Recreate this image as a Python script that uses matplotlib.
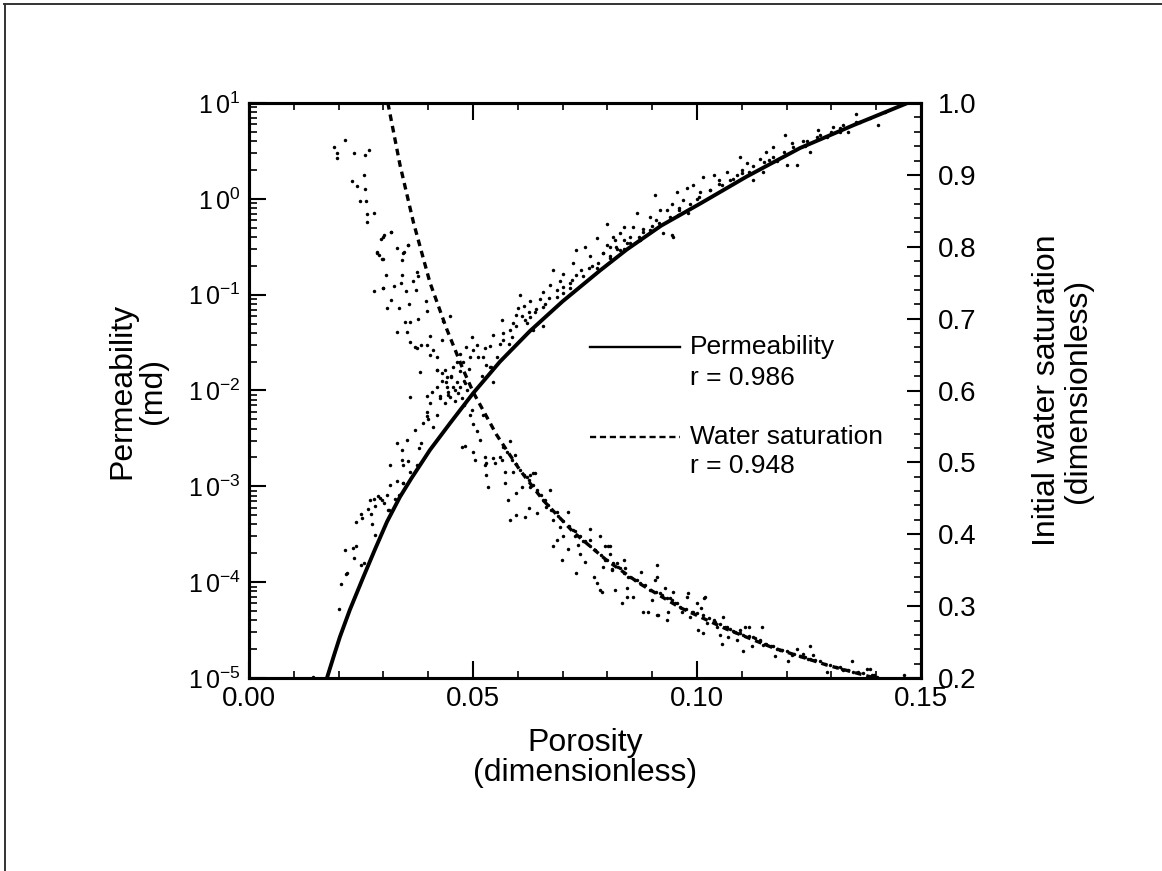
import matplotlib
matplotlib.use('Agg')
import matplotlib.pyplot as plt
import numpy as np
from matplotlib.ticker import MultipleLocator, LogLocator, NullFormatter
from matplotlib.lines import Line2D

plt.rcParams['font.family'] = ['Liberation Sans', 'DejaVu Sans']
plt.rcParams['mathtext.fontset'] = 'custom'
plt.rcParams['mathtext.rm'] = 'Liberation Sans'
plt.rcParams['mathtext.it'] = 'Liberation Sans:italic'
plt.rcParams['mathtext.bf'] = 'Liberation Sans:bold'

# ---------------- data ----------------
# Permeability fit curve (porosity, log10 permeability in md)
perm_fit_phi = [0.0174, 0.0190, 0.0203, 0.0225, 0.0254, 0.0281, 0.0308, 0.0337, 0.0362,
                0.0404, 0.0449, 0.0500, 0.0560, 0.0627, 0.0700, 0.0783, 0.0843, 0.0920,
                0.1007, 0.1110, 0.1230, 0.1350, 0.1470]
perm_fit_logk = [-5.00, -4.76, -4.57, -4.29, -3.96, -3.66, -3.37, -3.11, -2.92,
                 -2.62, -2.34, -2.03, -1.70, -1.38, -1.07, -0.75, -0.53, -0.28,
                 -0.05, 0.23, 0.53, 0.77, 1.00]

# Water saturation fit curve (porosity, Sw)
sw_fit_phi = [0.0310, 0.0337, 0.0367, 0.0404, 0.0441, 0.0478, 0.0501, 0.0553, 0.0605,
              0.0657, 0.0724, 0.0798, 0.0873, 0.0962, 0.1066, 0.1170, 0.1290, 0.1397]
sw_fit = [1.000, 0.914, 0.834, 0.750, 0.686, 0.629, 0.597, 0.538, 0.489,
          0.447, 0.403, 0.364, 0.331, 0.298, 0.268, 0.242, 0.218, 0.200]

# Permeability measurements (porosity, log10 permeability)
perm_pts = [
    (0.0142, -4.99), (0.0201, -4.28), (0.0205, -4.02), (0.0216, -3.91), (0.0218, -3.90),
    (0.0214, -3.66), (0.0233, -3.64), (0.0239, -3.62), (0.0235, -3.75), (0.0251, -3.82),
    (0.0257, -3.80), (0.0281, -3.51), (0.0275, -3.39), (0.0239, -3.37), (0.0252, -3.33),
    (0.0251, -3.29), (0.0266, -3.24), (0.0272, -3.29), (0.0282, -3.21), (0.0270, -3.14),
    (0.0280, -3.13), (0.0289, -3.10), (0.0296, -3.14), (0.0302, -3.17), (0.0307, -3.09),
    (0.0313, -3.25), (0.0325, -3.13), (0.0334, -3.09), (0.0343, -2.97), (0.0330, -2.94),
    (0.0311, -3.25), (0.0292, -3.12), (0.0315, -2.99), (0.0344, -2.97), (0.0330, -2.55),
    (0.0352, -2.52), (0.0341, -2.73), (0.0356, -2.74), (0.0315, -2.78), (0.0344, -2.78),
    (0.0374, -2.78), (0.0385, -2.55), (0.0341, -2.62), (0.0371, -2.41), (0.0389, -2.34),
    (0.0397, -2.22), (0.0404, -2.13), (0.0419, -2.26), (0.0411, -2.38), (0.0426, -2.06),
    (0.0441, -1.96), (0.0419, -1.79), (0.0437, -1.79), (0.0452, -1.85), (0.0464, -1.70),
    (0.0478, -1.70), (0.0493, -1.65), (0.0501, -1.58), (0.0512, -1.65), (0.0497, -1.44),
    (0.0508, -1.53), (0.0527, -1.56), (0.0530, -1.73), (0.0538, -1.75), (0.0553, -1.65),
    (0.0545, -1.42), (0.0560, -1.51), (0.0568, -1.47), (0.0564, -1.26), (0.0583, -1.37),
    (0.0590, -1.30), (0.0597, -1.21), (0.0586, -1.44), (0.0601, -1.14), (0.0613, -1.12),
    (0.0624, -1.18), (0.0616, -1.26), (0.0627, -1.07), (0.0638, -1.18), (0.0650, -1.05),
    (0.0657, -0.97), (0.0672, -0.90), (0.0679, -0.74), (0.0687, -0.95), (0.0702, -0.78),
    (0.0694, -0.86), (0.0717, -0.88), (0.0724, -0.67), (0.0731, -0.53), (0.0742, -0.74),
    (0.0750, -0.50), (0.0761, -0.60), (0.0776, -0.41), (0.0780, -0.67), (0.0791, -0.57),
    (0.0798, -0.48), (0.0813, -0.40), (0.0821, -0.52), (0.0828, -0.36), (0.0836, -0.43),
    (0.0605, -1.00), (0.0635, -1.37), (0.0657, -1.33), (0.0545, -1.91), (0.0798, -0.26),
    (0.0817, -0.43), (0.0836, -0.29), (0.0858, -0.29), (0.0865, -0.15), (0.0880, -0.31),
    (0.0895, -0.19), (0.0906, 0.04), (0.0917, -0.12), (0.0925, -0.36), (0.0947, -0.40),
    (0.0944, -0.05), (0.0955, 0.07), (0.0969, -0.01), (0.0977, 0.11), (0.0992, 0.14),
    (0.1007, 0.07), (0.1014, 0.23), (0.1029, 0.09), (0.1037, 0.25), (0.1048, 0.20),
    (0.1066, 0.28), (0.1074, 0.20), (0.1089, 0.25), (0.1096, 0.44), (0.1111, 0.37),
    (0.1115, 0.28), (0.1126, 0.20), (0.1141, 0.42), (0.1148, 0.28), (0.1155, 0.49),
    (0.1170, 0.54), (0.1178, 0.39), (0.1196, 0.67), (0.1200, 0.35), (0.1211, 0.58),
    (0.1223, 0.35), (0.1237, 0.60), (0.1252, 0.49), (0.1271, 0.72), (0.1275, 0.67),
    (0.1304, 0.75), (0.1327, 0.77), (0.1338, 0.70), (0.1356, 0.89), (0.1364, 0.80),
    (0.0944, -0.38), (0.0932, -0.12), (0.0958, -0.17), (0.0981, -0.15), (0.0908, -0.22),
    (0.0873, -0.43), (0.0843, -0.46), (0.0828, -0.53), (0.0791, -0.57), (0.0806, -0.50),
    (0.1386, 0.84), (0.1420, 0.91), (0.1404, 0.77), (0.0700, -0.98), (0.0720, -0.85),
    (0.0760, -0.72), (0.0850, -0.40), (0.0880, -0.35), (0.0900, -0.28), (0.0960, -0.10),
    (0.1000, 0.00), (0.1050, 0.15), (0.1100, 0.30), (0.1160, 0.40), (0.1240, 0.55),
    (0.1290, 0.65), (0.1320, 0.70), (0.0620, -1.30), (0.0580, -1.52), (0.0660, -1.10),
    (0.0540, -1.75), (0.0520, -1.85), (0.0480, -1.90), (0.0460, -2.00), (0.0400, -2.30),
    (0.0380, -2.60), (0.0360, -2.85), (0.0470, -1.80), (0.0490, -1.78),
    (0.0597, -1.33), (0.0627, -1.23), (0.0657, -1.13), (0.0687, -1.02), (0.0717, -0.93),
    (0.0746, -0.81), (0.0776, -0.72), (0.0806, -0.62), (0.0836, -0.52), (0.0568, -1.40),
    (0.0538, -1.54), (0.0523, -1.65), (0.0806, -0.60), (0.0850, -0.46), (0.0895, -0.33),
    (0.0940, -0.19), (0.0984, -0.05), (0.1029, 0.09), (0.1081, 0.21), (0.1126, 0.34),
    (0.1170, 0.44), (0.1215, 0.54), (0.1267, 0.65), (0.1320, 0.74), (0.1356, 0.80),
    (0.0820, -0.50), (0.0870, -0.40), (0.0915, -0.25), (0.0960, -0.12), (0.1005, 0.02),
    (0.1055, 0.14), (0.1100, 0.27), (0.1150, 0.38), (0.1195, 0.49), (0.1245, 0.60),
    (0.1300, 0.70), (0.0610, -1.22), (0.0640, -1.15), (0.0670, -1.03), (0.0700, -0.92),
    (0.0730, -0.80), (0.0765, -0.70), (0.0430, -1.90), (0.0445, -2.05), (0.0455, -1.75),
    (0.0470, -1.62), (0.0485, -1.55),
]

# Water saturation measurements (porosity, Sw)
sw_pts = [
    (0.0190, 0.939), (0.0196, 0.931), (0.0196, 0.923), (0.0215, 0.949), (0.0234, 0.931),
    (0.0260, 0.927), (0.0268, 0.934), (0.0230, 0.891), (0.0240, 0.884), (0.0256, 0.900),
    (0.0260, 0.880), (0.0247, 0.864), (0.0261, 0.863), (0.0263, 0.845), (0.0280, 0.847),
    (0.0264, 0.835), (0.0295, 0.811), (0.0301, 0.816), (0.0317, 0.821), (0.0330, 0.798),
    (0.0345, 0.793), (0.0354, 0.803), (0.0286, 0.793), (0.0290, 0.788), (0.0298, 0.783),
    (0.0341, 0.782), (0.0306, 0.761), (0.0341, 0.761), (0.0376, 0.765), (0.0377, 0.759),
    (0.0367, 0.752), (0.0339, 0.749), (0.0324, 0.745), (0.0300, 0.743), (0.0300, 0.814),
    (0.0317, 0.820), (0.0285, 0.792), (0.0296, 0.783), (0.0343, 0.792), (0.0356, 0.803),
    (0.0280, 0.738), (0.0298, 0.743), (0.0350, 0.738), (0.0372, 0.740), (0.0318, 0.726),
    (0.0307, 0.715), (0.0335, 0.715), (0.0357, 0.720), (0.0394, 0.724), (0.0348, 0.696),
    (0.0359, 0.696), (0.0378, 0.699), (0.0397, 0.710), (0.0330, 0.682), (0.0352, 0.682),
    (0.0359, 0.667), (0.0371, 0.661), (0.0385, 0.663), (0.0397, 0.663), (0.0374, 0.659),
    (0.0404, 0.650), (0.0419, 0.647), (0.0411, 0.656), (0.0430, 0.670), (0.0449, 0.703),
    (0.0434, 0.697), (0.0404, 0.676), (0.0382, 0.626), (0.0419, 0.629), (0.0430, 0.624),
    (0.0441, 0.619), (0.0452, 0.619), (0.0464, 0.612), (0.0471, 0.605), (0.0482, 0.610),
    (0.0486, 0.601), (0.0359, 0.591), (0.0397, 0.593), (0.0408, 0.598), (0.0419, 0.605),
    (0.0426, 0.589), (0.0437, 0.582), (0.0449, 0.591), (0.0460, 0.585), (0.0467, 0.596),
    (0.0497, 0.573), (0.0493, 0.566), (0.0501, 0.554), (0.0523, 0.566), (0.0397, 0.564),
    (0.0508, 0.543), (0.0516, 0.531), (0.0475, 0.522), (0.0482, 0.523), (0.0501, 0.515),
    (0.0527, 0.508), (0.0504, 0.503), (0.0530, 0.499), (0.0545, 0.506), (0.0564, 0.503),
    (0.0583, 0.530), (0.0586, 0.503), (0.0571, 0.487), (0.0638, 0.485), (0.0627, 0.482),
    (0.0527, 0.496), (0.0530, 0.482), (0.0534, 0.466), (0.0549, 0.499), (0.0560, 0.508),
    (0.0568, 0.522), (0.0594, 0.510), (0.0571, 0.471), (0.0579, 0.448), (0.0583, 0.420),
    (0.0590, 0.487), (0.0597, 0.457), (0.0605, 0.489), (0.0609, 0.466), (0.0597, 0.427),
    (0.0620, 0.480), (0.0627, 0.466), (0.0635, 0.485), (0.0624, 0.436), (0.0616, 0.424),
    (0.0642, 0.462), (0.0642, 0.429), (0.0657, 0.448), (0.0664, 0.438), (0.0672, 0.462),
    (0.0675, 0.434), (0.0679, 0.420), (0.0687, 0.431), (0.0694, 0.410), (0.0702, 0.418),
    (0.0713, 0.431), (0.0679, 0.383), (0.0687, 0.392), (0.0698, 0.364), (0.0702, 0.397),
    (0.0713, 0.380), (0.0724, 0.406), (0.0728, 0.397), (0.0731, 0.346), (0.0735, 0.385),
    (0.0739, 0.373), (0.0746, 0.390), (0.0750, 0.362), (0.0761, 0.408), (0.0761, 0.392),
    (0.0769, 0.341), (0.0772, 0.378), (0.0776, 0.332), (0.0783, 0.397), (0.0787, 0.320),
    (0.0795, 0.383), (0.0798, 0.364), (0.0806, 0.383), (0.0810, 0.350), (0.0817, 0.322),
    (0.0821, 0.360), (0.0832, 0.304), (0.0836, 0.364), (0.0839, 0.353), (0.0843, 0.313),
    (0.0847, 0.341), (0.0791, 0.355), (0.0802, 0.383), (0.0806, 0.373), (0.0795, 0.364),
    (0.0813, 0.360), (0.0783, 0.322), (0.0824, 0.355), (0.0843, 0.325), (0.0858, 0.313),
    (0.0865, 0.336), (0.0873, 0.332), (0.0876, 0.348), (0.0891, 0.292), (0.0895, 0.322),
    (0.0899, 0.308), (0.0906, 0.336), (0.0910, 0.357), (0.0914, 0.288), (0.0917, 0.318),
    (0.0929, 0.325), (0.0932, 0.281), (0.0936, 0.292), (0.0940, 0.311), (0.0947, 0.320),
    (0.0951, 0.304), (0.0962, 0.299), (0.0966, 0.292), (0.0981, 0.318), (0.0984, 0.285),
    (0.0992, 0.292), (0.0999, 0.304), (0.1003, 0.267), (0.1010, 0.297), (0.1014, 0.288),
    (0.1014, 0.262), (0.1018, 0.313), (0.1022, 0.276), (0.1037, 0.281), (0.1044, 0.271),
    (0.1051, 0.260), (0.1055, 0.248), (0.1059, 0.285), (0.1066, 0.271), (0.1070, 0.257),
    (0.1081, 0.265), (0.1089, 0.253), (0.1096, 0.267), (0.1103, 0.260), (0.1103, 0.237),
    (0.1115, 0.271), (0.1122, 0.244), (0.1126, 0.257), (0.1141, 0.253), (0.1145, 0.271),
    (0.1148, 0.246), (0.1155, 0.248), (0.1170, 0.244), (0.1174, 0.230), (0.1185, 0.239),
    (0.1200, 0.237), (0.1204, 0.223), (0.1211, 0.232), (0.1223, 0.241), (0.1230, 0.230),
    (0.1237, 0.234), (0.1248, 0.227), (0.1252, 0.244), (0.1260, 0.232), (0.1275, 0.223),
    (0.1290, 0.209), (0.1297, 0.218), (0.1320, 0.216), (0.1327, 0.211), (0.1345, 0.223),
    (0.1349, 0.209), (0.1371, 0.207), (0.1379, 0.213), (0.1386, 0.213), (0.1394, 0.204),
    (0.1401, 0.202), (0.1461, 0.204), (0.0910, 0.288), (0.0880, 0.292), (0.0978, 0.313),
    (0.1016, 0.312), (0.1107, 0.271), (0.0910, 0.341),
    (0.0828, 0.353), (0.0850, 0.341), (0.0921, 0.315), (0.0944, 0.309), (0.0988, 0.292),
    (0.1040, 0.278), (0.1063, 0.271), (0.1085, 0.264), (0.1129, 0.255), (0.1152, 0.248),
    (0.1178, 0.241), (0.1252, 0.227), (0.1323, 0.213), (0.1390, 0.204),
    (0.0810, 0.352), (0.0838, 0.346), (0.0862, 0.336), (0.0884, 0.329), (0.0908, 0.320),
    (0.0933, 0.312), (0.0955, 0.304), (0.0975, 0.296), (0.1000, 0.290), (0.1027, 0.283),
    (0.1052, 0.275), (0.1074, 0.268), (0.1095, 0.262), (0.1116, 0.258), (0.1140, 0.252),
    (0.1165, 0.245), (0.1190, 0.239), (0.1217, 0.234), (0.1240, 0.229), (0.1263, 0.225),
    (0.1286, 0.220), (0.1310, 0.216), (0.1336, 0.211), (0.1360, 0.208),
    (0.0624, 0.475), (0.0661, 0.448), (0.0728, 0.404), (0.0750, 0.390), (0.0772, 0.378),
    (0.0577, 0.514), (0.0596, 0.498), (0.0614, 0.482), (0.0633, 0.468), (0.0652, 0.455),
    (0.0668, 0.441), (0.0690, 0.426), (0.0715, 0.411), (0.0739, 0.397), (0.0761, 0.384),
    (0.0785, 0.371), (0.0445, 0.598), (0.0455, 0.605), (0.0440, 0.612), (0.0475, 0.590),
    (0.0480, 0.580),
]

x_ticks = [0.00, 0.05, 0.10, 0.15]
x_ticklabels = ['0.00', '0.05', '0.10', '0.15']
k_exponents = [-5, -4, -3, -2, -1, 0, 1]
sw_ticks = [0.2, 0.3, 0.4, 0.5, 0.6, 0.7, 0.8, 0.9, 1.0]
sw_ticklabels = ['0.2', '0.3', '0.4', '0.5', '0.6', '0.7', '0.8', '0.9', '1.0']

# ---------------- figure ----------------
W, H = 1162, 871
fig = plt.figure(figsize=(W / 100, H / 100), dpi=100)
ax = fig.add_axes([249 / W, 1 - 678 / H, 672 / W, 575 / H])
ax2 = ax.twinx()

pk_phi = np.array([p[0] for p in perm_pts])
pk_k = 10 ** np.array([p[1] for p in perm_pts])
sw_phi = np.array([p[0] for p in sw_pts])
sw_val = np.array([p[1] for p in sw_pts])

ax.plot(pk_phi, pk_k, 'o', ms=2.5, color='black', mec='none', zorder=2)
ax.plot(perm_fit_phi, 10 ** np.array(perm_fit_logk), '-', color='black', lw=2.8,
        solid_capstyle='butt', solid_joinstyle='round', zorder=3)

ax2.plot(sw_phi, sw_val, 'o', ms=2.5, color='black', mec='none', zorder=2)
ax2.plot(sw_fit_phi, sw_fit, color='black', lw=2.4, dashes=(2.0, 1.5), zorder=3)

ax.set_xlim(0, 0.15)
ax.set_yscale('log')
ax.set_ylim(1e-5, 1e1)
ax2.set_ylim(0.2, 1.0)

tick_fs = 20
ax.set_xticks(x_ticks)
ax.set_xticklabels(x_ticklabels, fontsize=tick_fs)
ax.xaxis.set_minor_locator(MultipleLocator(0.01))
ax.set_yticks([10.0 ** e for e in k_exponents])
ax.set_yticklabels([r'$\mathregular{1\,0^{%d}}$' % e for e in k_exponents], fontsize=18)
ax.yaxis.set_minor_locator(LogLocator(base=10, subs=np.arange(2, 10)))
ax.yaxis.set_minor_formatter(NullFormatter())

ax2.set_yticks(sw_ticks)
ax2.set_yticklabels(sw_ticklabels, fontsize=tick_fs)
ax2.yaxis.set_minor_locator(MultipleLocator(0.02))

ax.tick_params(axis='x', which='both', direction='in', top=True, bottom=True, pad=6)
ax.tick_params(axis='x', which='major', length=12, width=1.5)
ax.tick_params(axis='x', which='minor', length=5, width=1.2)
ax.tick_params(axis='y', which='both', direction='in', left=True, right=False, pad=6)
ax.tick_params(axis='y', which='major', length=12, width=1.5)
ax.tick_params(axis='y', which='minor', length=6, width=1.2)
ax2.tick_params(axis='y', which='both', direction='in', right=True, left=False, pad=12)
ax2.tick_params(axis='y', which='major', length=10, width=1.5)
ax2.tick_params(axis='y', which='minor', length=5, width=1.2)

for a in (ax, ax2):
    for s in a.spines.values():
        s.set_linewidth(2.2)

label_fs = 23
ax.set_xlabel('Porosity\n(dimensionless)', fontsize=label_fs, labelpad=11, linespacing=1.0)
ax.set_ylabel('Permeability\n(md)', fontsize=label_fs, labelpad=14, linespacing=1.05)
ax2.set_ylabel('Initial water saturation\n(dimensionless)', fontsize=label_fs,
               labelpad=40, linespacing=1.05)

# legend (drawn manually to match the layout)
leg_fs = 19
ax.add_line(Line2D([0.507, 0.641], [0.5757, 0.5757], transform=ax.transAxes,
                   color='black', lw=1.7))
ax.add_line(Line2D([0.507, 0.641], [0.4191, 0.4191], transform=ax.transAxes,
                   color='black', lw=1.7, dashes=(2.6, 1.6)))
ax.text(0.656, 0.5757, 'Permeability', transform=ax.transAxes, fontsize=leg_fs,
        va='center', ha='left')
ax.text(0.656, 0.5217, 'r = 0.986', transform=ax.transAxes, fontsize=leg_fs,
        va='center', ha='left')
ax.text(0.656, 0.4191, 'Water saturation', transform=ax.transAxes, fontsize=leg_fs,
        va='center', ha='left')
ax.text(0.656, 0.3687, 'r = 0.948', transform=ax.transAxes, fontsize=leg_fs,
        va='center', ha='left')

# page frame (top and left edges)
fig.add_artist(Line2D([4 / W, 1], [1 - 4 / H, 1 - 4 / H], transform=fig.transFigure,
                      color='#333333', lw=1.4))
fig.add_artist(Line2D([5 / W, 5 / W], [0, 1 - 4 / H], transform=fig.transFigure,
                      color='#333333', lw=1.4))

fig.savefig('out.png', dpi=100)
